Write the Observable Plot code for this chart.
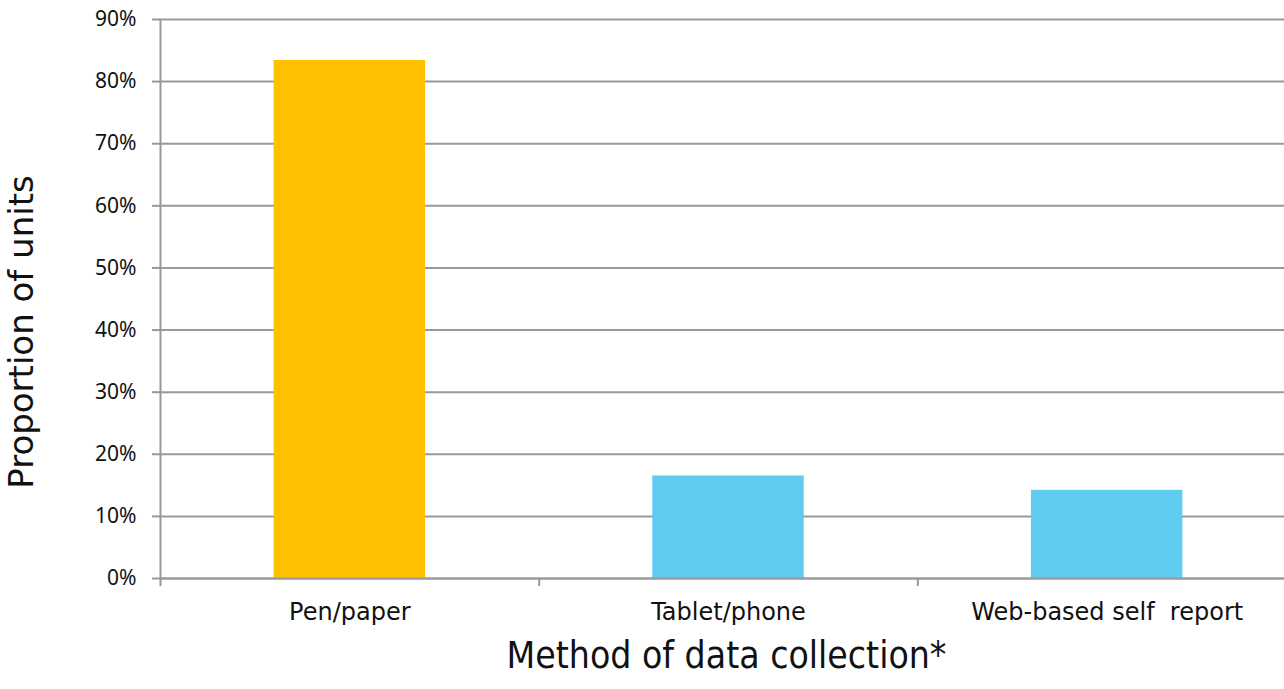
<!DOCTYPE html>
<html><head><meta charset="utf-8">
<script src="https://cdn.jsdelivr.net/npm/d3@7"></script>
<script src="https://cdn.jsdelivr.net/npm/@observablehq/plot@0.6"></script>
<style>
html,body{margin:0;padding:0;background:#fff;overflow:hidden}
svg text{white-space:pre}
</style>
</head><body><div id="chart"></div>
<script>
const categories = ["Pen/paper", "Tablet/phone", "Web-based self  report"];
const values = [0.834, 0.165, 0.142];
const colors = ["#FFC000", "#5FCBEF", "#5FCBEF"];
const yTicks = [0, 0.1, 0.2, 0.3, 0.4, 0.5, 0.6, 0.7, 0.8, 0.9];
const xBoundaries = [0, 1, 2, 3];
const xTitle = "Method of data collection*";
const yTitle = "Proportion of units";

const data = categories.map((c, i) => ({category: c, index: i, value: values[i], color: colors[i]}));
const grid = "#999999";

const chart = Plot.plot({
  width: 1284,
  height: 689,
  marginLeft: 160,
  marginRight: 0,
  marginTop: 19,
  marginBottom: 111,
  style: {fontFamily: "DejaVu Sans", background: "#fff", overflow: "visible"},
  x: {domain: [0, 3], range: [160, 1296]},
  y: {domain: [0, 0.9]},
  color: {type: "identity"},
  marks: [
    Plot.gridY(yTicks, {stroke: grid, strokeOpacity: 1, strokeWidth: 2}),
    Plot.rectY(data, {x1: d => d.index + 0.3, x2: d => d.index + 0.7, y: "value", fill: "color"}),
    Plot.ruleY([0], {stroke: grid, strokeWidth: 2}),
    Plot.ruleX([0], {y1: 0, y2: 0.9, stroke: grid, strokeWidth: 2}),
    Plot.axisY({ticks: yTicks, tickFormat: d3.format(".0%"), tickSize: 8, tickPadding: 16,
      stroke: grid, strokeWidth: 2, fill: "#111", fontSize: 21, fontFamily: "Noto Sans", label: null}),
    Plot.axisX({ticks: xBoundaries, tickSize: 8, tickFormat: () => "", stroke: grid, strokeWidth: 2, label: null}),
    Plot.axisX({ticks: [0.5, 1.5, 2.5], tickSize: 0, tickPadding: 24, tickFormat: d => categories[Math.floor(d)],
      fill: "#111", fontSize: 24, label: null}),
    Plot.text([xTitle], {frameAnchor: "bottom", dx: 4, dy: 89, fontSize: 37, fontFamily: "DejaVu Sans Condensed", fill: "#111"}),
    Plot.text([yTitle], {frameAnchor: "left", textAnchor: "middle", rotate: -90, dx: -138, dy: 33, fontSize: 34, fill: "#111"})
  ]
});
document.getElementById("chart").appendChild(chart);
</script>
</body></html>
